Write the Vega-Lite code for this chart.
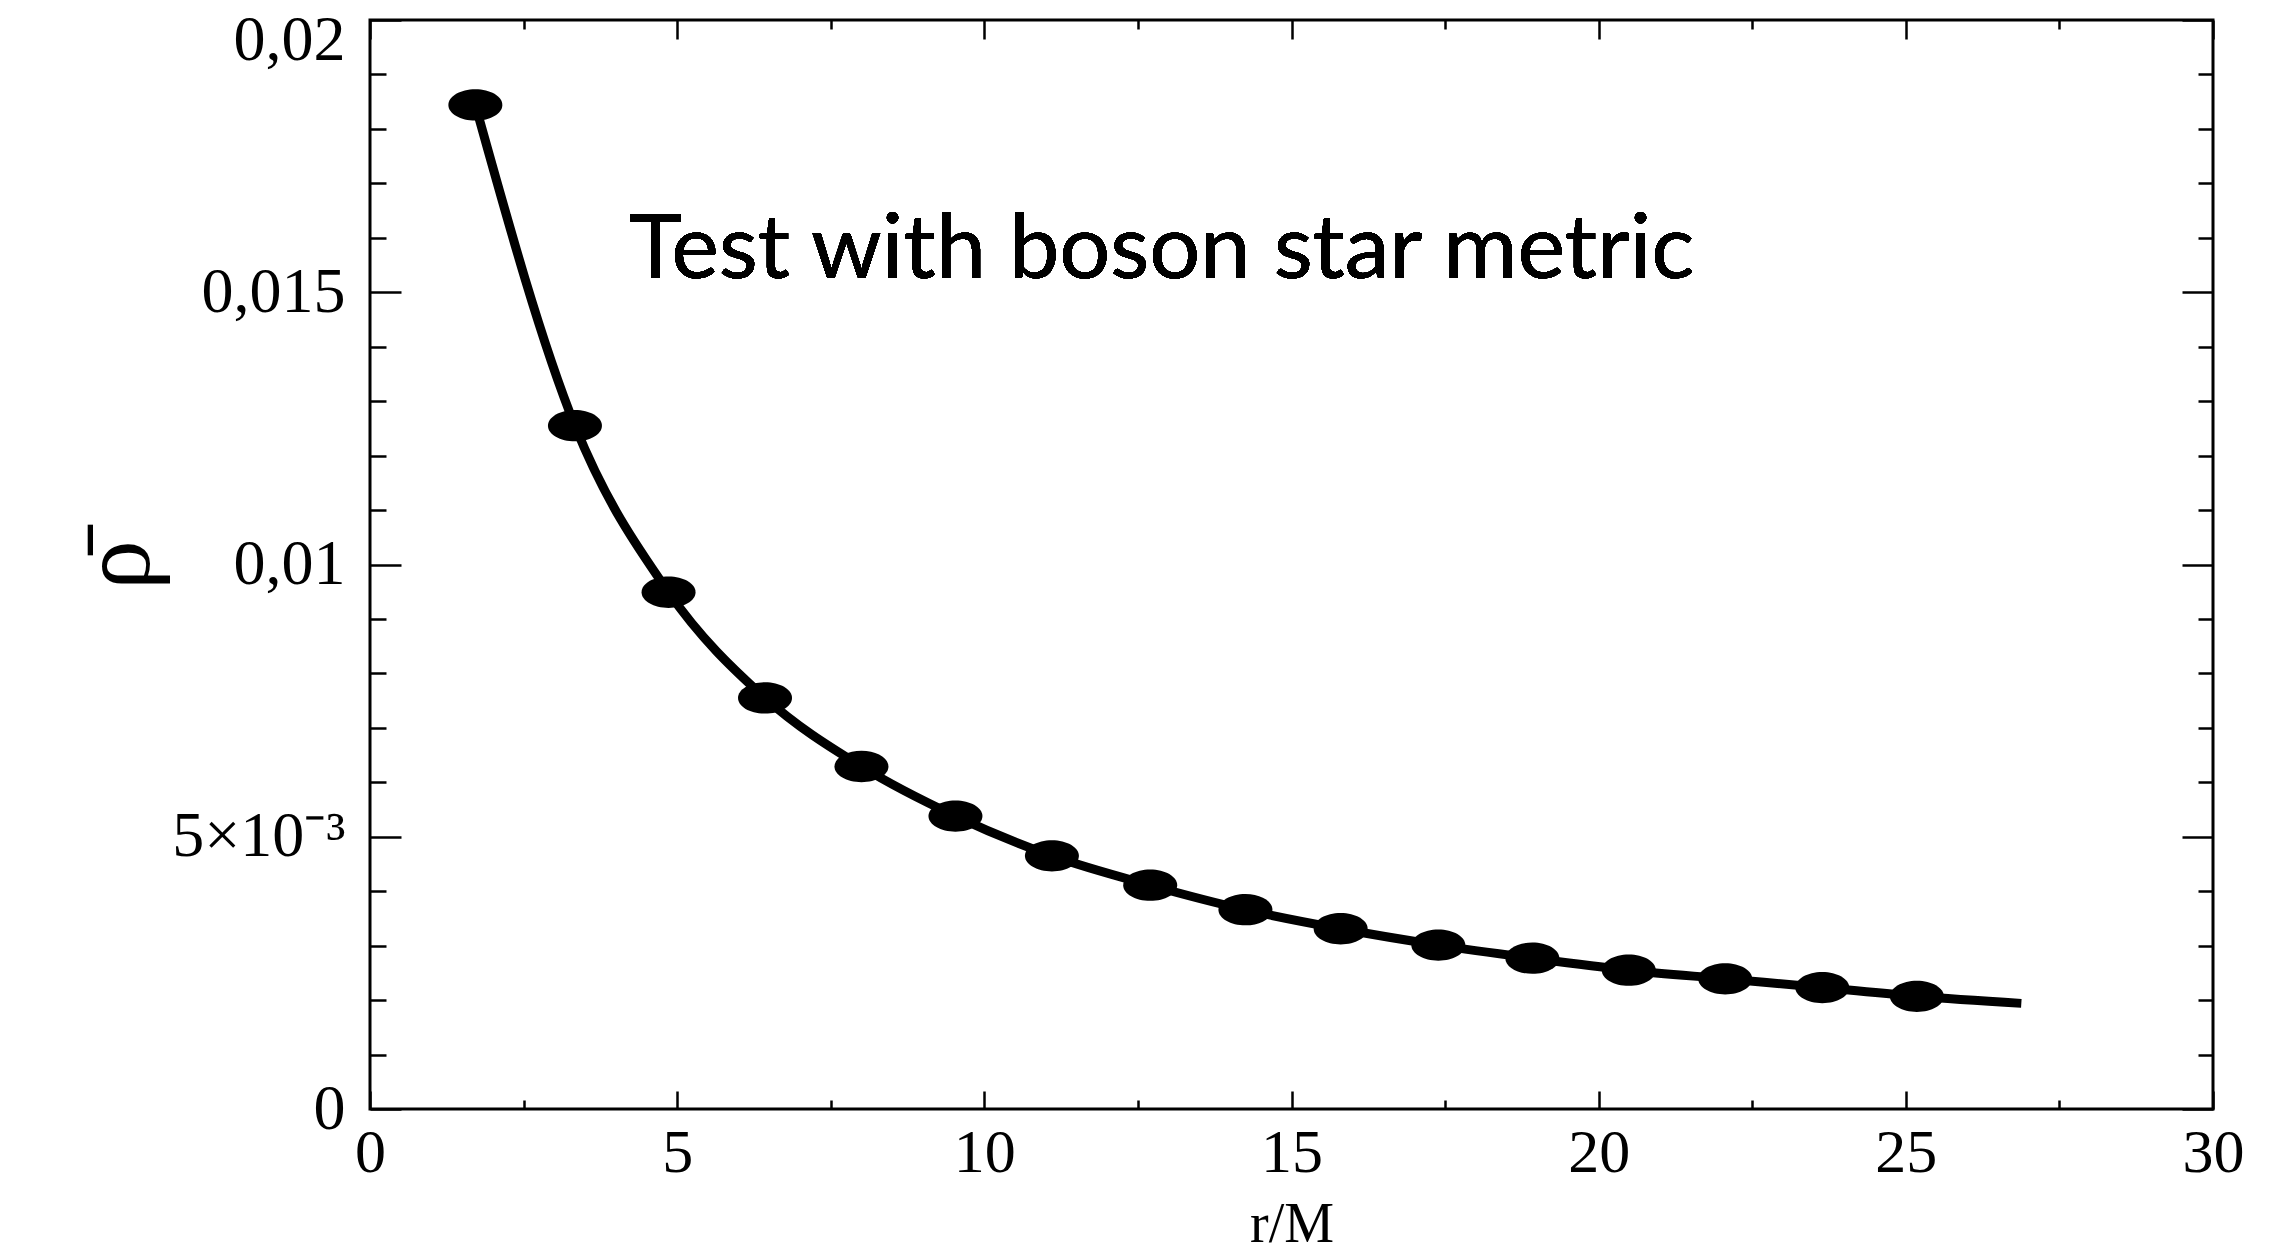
{
  "$schema": "https://vega.github.io/schema/vega-lite/v6.json",
  "width": 1843,
  "height": 1089,
  "autosize": {"type": "none"},
  "padding": {"left": 370, "top": 20, "right": 82, "bottom": 145},
  "background": "white",
  "config": {
    "view": {"stroke": "black", "strokeWidth": 3},
    "axis": {
      "domain": false,
      "grid": false,
      "tickColor": "black",
      "tickWidth": 2.5,
      "labelFont": "Liberation Serif",
      "labelFontSize": 64,
      "labelColor": "black",
      "labelOverlap": false,
      "labelBound": false,
      "labelFlush": false,
      "titleFont": "Liberation Serif",
      "titleFontWeight": "normal",
      "titleColor": "black"
    }
  },
  "data": {
    "values": [
      {"r": 1.715, "rho": 0.01844, "kind": "p"},
      {"r": 3.336, "rho": 0.01255, "kind": "p"},
      {"r": 4.86, "rho": 0.00949, "kind": "p"},
      {"r": 6.43, "rho": 0.00755, "kind": "p"},
      {"r": 8.0, "rho": 0.00629, "kind": "p"},
      {"r": 9.53, "rho": 0.00538, "kind": "p"},
      {"r": 11.1, "rho": 0.00465, "kind": "p"},
      {"r": 12.7, "rho": 0.00411, "kind": "p"},
      {"r": 14.25, "rho": 0.00366, "kind": "p"},
      {"r": 15.8, "rho": 0.00331, "kind": "p"},
      {"r": 17.39, "rho": 0.00301, "kind": "p"},
      {"r": 18.92, "rho": 0.00277, "kind": "p"},
      {"r": 20.49, "rho": 0.00255, "kind": "p"},
      {"r": 22.06, "rho": 0.00239, "kind": "p"},
      {"r": 23.64, "rho": 0.00223, "kind": "p"},
      {"r": 25.18, "rho": 0.00207, "kind": "p"},
      {"r": 26.88, "rho": 0.00194, "kind": "c"}
    ]
  },
  "layer": [
    {
      "mark": {"type": "line", "interpolate": "monotone", "color": "black", "strokeWidth": 9},
      "encoding": {
        "x": {
          "field": "r", "type": "quantitative",
          "scale": {"domain": [0, 30], "nice": false},
          "axis": {
            "orient": "bottom",
            "values": [0, 2.5, 5, 7.5, 10, 12.5, 15, 17.5, 20, 22.5, 25, 27.5, 30],
            "labelExpr": "datum.value % 5 == 0 ? datum.label : ''",
            "tickSize": {"condition": {"test": "datum.value % 5 == 0", "value": -18}, "value": -9},
            "labelFontSize": 62,
            "labelPadding": 31,
            "title": "r/M",
            "titleFontSize": 56,
            "titlePadding": 5
          }
        },
        "y": {
          "field": "rho", "type": "quantitative",
          "scale": {"domain": [0, 0.02], "nice": false},
          "axis": {
            "orient": "left",
            "values": [0, 0.001, 0.002, 0.003, 0.004, 0.005, 0.006, 0.007, 0.008, 0.009, 0.01, 0.011, 0.012, 0.013, 0.014, 0.015, 0.016, 0.017, 0.018, 0.019, 0.02],
            "labelExpr": "datum.value == 0 ? '0' : datum.value == 0.005 ? '5×10⁻³' : datum.value == 0.01 ? '0,01' : datum.value == 0.015 ? '0,015' : datum.value == 0.02 ? '0,02' : ''",
            "tickSize": {"condition": {"test": "indexof([0, 0.005, 0.01, 0.015, 0.02], datum.value) >= 0", "value": -31}, "value": -16},
            "labelPadding": 56,
            "labelOffset": {"condition": {"test": "datum.value == 0.02", "value": 20}, "value": 0},
            "title": "ρ̄",
            "titleFontSize": 100,
            "titlePadding": 2
          }
        }
      }
    },
    {
      "transform": [{"filter": "datum.kind == 'p'"}],
      "mark": {"type": "point", "shape": "M -1 0 A 1 0.58 0 1 0 1 0 A 1 0.58 0 1 0 -1 0 Z", "filled": true, "color": "black", "opacity": 1, "size": 2916},
      "encoding": {
        "x": {
          "field": "r", "type": "quantitative",
          "axis": {
            "orient": "top",
            "values": [0, 2.5, 5, 7.5, 10, 12.5, 15, 17.5, 20, 22.5, 25, 27.5, 30],
            "labels": false,
            "title": null,
            "tickSize": {"condition": {"test": "datum.value % 5 == 0", "value": -19}, "value": -9}
          }
        },
        "y": {
          "field": "rho", "type": "quantitative",
          "axis": {
            "orient": "right",
            "values": [0, 0.001, 0.002, 0.003, 0.004, 0.005, 0.006, 0.007, 0.008, 0.009, 0.01, 0.011, 0.012, 0.013, 0.014, 0.015, 0.016, 0.017, 0.018, 0.019, 0.02],
            "labels": false,
            "title": null,
            "tickSize": {"condition": {"test": "indexof([0, 0.005, 0.01, 0.015, 0.02], datum.value) >= 0", "value": -31}, "value": -15}
          }
        }
      }
    },
    {
      "mark": {"type": "text", "font": "Lato", "fontSize": 90, "align": "left", "baseline": "alphabetic", "color": "black", "text": "Test with boson star metric"},
      "encoding": {
        "x": {"datum": 4.216, "type": "quantitative", "axis": null},
        "y": {"datum": 0.01526, "type": "quantitative", "axis": null}
      }
    }
  ],
  "resolve": {"axis": {"x": "independent", "y": "independent"}}
}
